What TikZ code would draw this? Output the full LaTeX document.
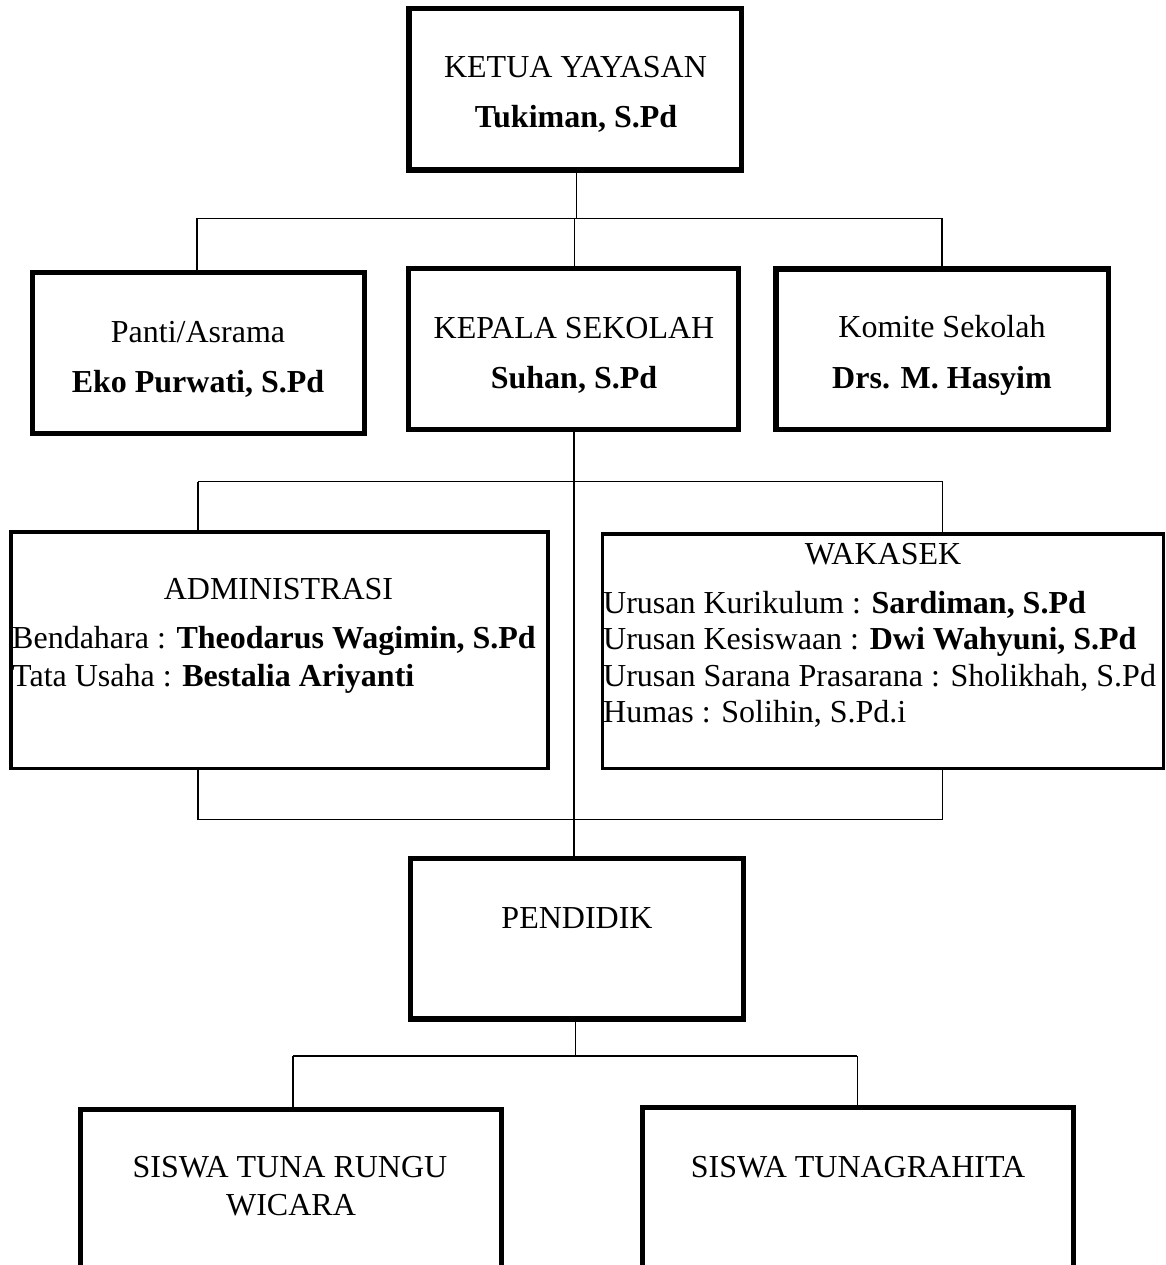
\documentclass[tikz,border=0pt]{standalone}
\usepackage{fontspec}
\setmainfont{Liberation Serif}
\usetikzlibrary{calc}
\newcommand\bigfs{\fontsize{32}{38}\selectfont}
\begin{document}
\begin{tikzpicture}[x=1pt,y=-1pt,
  box/.style={draw, rectangle, inner sep=0, line width=5pt},
  conn/.style={line width=1.3pt},
  txt/.style={inner sep=0, anchor=base, font=\bigfs},
  ltxt/.style={inner sep=0, anchor=base west, font=\bigfs}]
\clip (0,0) rectangle (1166,1265);
% boxes
\node[box, line width=5.5pt, minimum width=332.5pt, minimum height=161.5pt] (ketua) at (575,89.5) {};
\node[box, minimum width=332pt, minimum height=161pt] (panti) at (198.5,353) {};
\node[box, minimum width=330pt, minimum height=161pt] (kepala) at (573.5,349) {};
\node[box, line width=5.5pt, minimum width=332.5pt, minimum height=160.5pt] (komite) at (942,349) {};
\node[box, line width=3.5pt, minimum width=537pt, minimum height=236.5pt] (admin) at (279.25,650) {};
\node[box, line width=3.5pt, minimum width=561pt, minimum height=234.5pt] (wakasek) at (882.75,651) {};
\node[box, line width=5.3pt, minimum width=332.7pt, minimum height=160.7pt] (pendidik) at (577,938.7) {};
\node[box, minimum width=421pt, minimum height=210.8pt] (siswa1) at (291,1214.6) {};
\node[box, minimum width=430.4pt, minimum height=212.5pt] (siswa2) at (858.1,1213.75) {};
% texts
\node[txt] (ketuaA) at (575.5,78) {KETUA YAYASAN};
\node[txt] (ketuaB) at (576,128) {\bfseries Tukiman, S.Pd};
\node[txt] (pantiA) at (198,342) {Panti/Asrama};
\node[txt] (pantiB) at (198,392) {\bfseries Eko Purwati, S.Pd};
\node[txt] (kepalaA) at (574,338) {KEPALA SEKOLAH};
\node[txt] (kepalaB) at (574,388) {\bfseries Suhan, S.Pd};
\node[txt] (komiteA) at (942,337) {Komite Sekolah};
\node[txt] (komiteB) at (942,388) {\bfseries Drs. M. Hasyim};
\node[txt] (adminA) at (278.5,599) {ADMINISTRASI};
\node[ltxt] (adminB) at (12,648) {Bendahara : \textbf{Theodarus Wagimin, S.Pd}};
\node[ltxt] (adminC) at (12,686) {Tata Usaha : \textbf{Bestalia Ariyanti}};
\node[txt] (wakA) at (883,564) {WAKASEK};
\node[ltxt] (wakB) at (603,613) {Urusan Kurikulum : \textbf{Sardiman, S.Pd}};
\node[ltxt] (wakC) at (603,649.5) {Urusan Kesiswaan : \textbf{Dwi Wahyuni, S.Pd}};
\node[ltxt] (wakD) at (603,686) {Urusan Sarana Prasarana : Sholikhah, S.Pd};
\node[ltxt] (wakE) at (603,722.5) {Humas : Solihin, S.Pd.i};
\node[txt] (pendA) at (577,928) {PENDIDIK};
\node[txt] (s1A) at (290,1177.7) {SISWA TUNA RUNGU};
\node[txt] (s1B) at (291,1215.7) {WICARA};
\node[txt] (s2A) at (858,1177.7) {SISWA TUNAGRAHITA};
% connectors
\coordinate (j1) at (576.5,218.3);
\coordinate (j1L) at (197,218.3);
\coordinate (j1R) at (942,218.3);
\coordinate (j1M) at (574.3,218.3);
\draw[conn] (ketua.south -| j1) -- (j1);
\draw[conn] (j1L) -- (j1R);
\draw[conn] (j1L) -- (panti.north -| j1L);
\draw[conn] (j1M) -- (kepala.north -| j1M);
\draw[conn] (j1R) -- (komite.north -| j1R);
\coordinate (j2) at (574,481.7);
\coordinate (j2L) at (198,481.7);
\coordinate (j2R) at (942.5,481.7);
\draw[conn] (kepala.south -| j2) -- (pendidik.north -| j2);
\draw[conn] (j2L) -- (j2R);
\draw[conn] (j2L) -- (admin.north -| j2L);
\draw[conn] (j2R) -- (wakasek.north -| j2R);
\coordinate (j3L) at (198,819.3);
\coordinate (j3R) at (942.7,819.3);
\draw[conn] (admin.south -| j3L) -- (j3L) -- (j3R) -- (wakasek.south -| j3R);
\coordinate (j4) at (575.3,1056);
\coordinate (j4L) at (293,1056);
\coordinate (j4R) at (857.4,1056);
\draw[conn] (pendidik.south -| j4) -- (j4);
\draw[conn] (j4L) -- (j4R);
\draw[conn] (j4L) -- (siswa1.north -| j4L);
\draw[conn] (j4R) -- (siswa2.north -| j4R);
\end{tikzpicture}
\end{document}
